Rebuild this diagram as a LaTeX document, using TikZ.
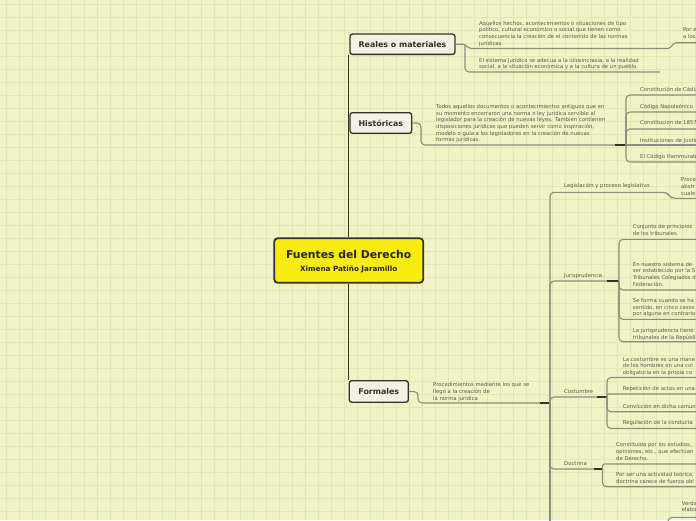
\documentclass[tikz,border=0pt]{standalone}
\usepackage{fontspec}
\newfontfamily\dv{DejaVu Sans}
\definecolor{bgc}{RGB}{241,243,197}
\definecolor{gridc}{RGB}{225,231,180}
\definecolor{txtc}{RGB}{88,88,80}
\definecolor{linec}{RGB}{140,140,128}
\definecolor{darkc}{RGB}{50,50,45}
\definecolor{boxf}{RGB}{243,241,228}
\definecolor{centf}{RGB}{248,236,14}
\tikzset{
  txt/.style={font=\dv\fontsize{5.3}{6.67}\selectfont, text=txtc, inner sep=0pt,
    anchor=north west, align=left, execute at begin node=\rule{0pt}{4.2pt}},
  topic/.style={draw=darkc, fill=boxf, line width=1.3pt, rounded corners=2.5pt,
    inner sep=0pt, font=\dv\bfseries\fontsize{7.9}{9}\selectfont, text=darkc},
  branch/.style={draw=linec, line width=1.1pt, rounded corners=4pt},
  trunk/.style={draw=darkc, line width=1.3pt},
  joint/.style={draw=darkc, line width=1.8pt},
}
\begin{document}
\begin{tikzpicture}[x=1pt,y=-1pt]
\useasboundingbox (0,0) rectangle (696,520);
\clip (0,0) rectangle (696,520);
\fill[bgc] (0,0) rectangle (696,520);
\foreach \i in {6,19,...,700} {\draw[gridc, line width=0.6pt] (\i,0) -- (\i,520);}
\foreach \j in {4,17,...,524} {\draw[gridc, line width=0.6pt] (0,\j) -- (696,\j);}

% main nodes
\node[draw=darkc, fill=centf, line width=1.8pt, rounded corners=3.5pt, minimum width=149pt, minimum height=44.5pt, inner sep=0pt] (central) at (348.7,260.5) {};
\node[font=\dv\bfseries\fontsize{10.8}{12}\selectfont, text=black!85, inner sep=0pt] (ctitle) at (348.7,254) {Fuentes del Derecho};
\node[font=\dv\bfseries\fontsize{7.2}{9}\selectfont, text=black!85, inner sep=0pt] (csub) at (348.7,269.3) {Ximena Patiño Jaramillo};

\node[topic, minimum width=105pt, minimum height=20.3pt] (reales) at (402.5,44.2) {Reales o materiales};
\node[topic, minimum width=61.7pt, minimum height=20.6pt] (hist) at (380.8,123) {Históricas};
\node[topic, minimum width=59pt, minimum height=21.6pt] (formales) at (378.8,391.5) {Formales};

% trunk
\draw[trunk] (central.north |- reales.south) -- (central.north);
\draw[trunk] (central.south) -- (central.south |- formales.north);

% Reales branch
\node[txt] (r1) at (479,20.9) {Aquellos hechos, acontecimientos o situaciones de tipo\\político, cultural económico o social que tienen como\\consecuencia la creación de el contenido de las normas\\jurídicas.};
\node[txt] (r2) at (479,57.6) {El sistema jurídico se adecua a la idiosincrasia, a la realidad\\social, a la situación económica y a la cultura de un pueblo.};
\node[txt] (r3) at (683,27.6) {Por e\\a los};
\coordinate (rj) at (465,44.2);
\draw[branch, rounded corners=2pt] (reales.east) -- (rj) -- (469,48.5) -- (670,48.5) -- (674,42.7) -- (700,42.7);
\draw[branch] (rj) -- (465,72) -- (660,72);

% Historicas branch
\node[txt] (h1) at (436,104.3) {Todos aquellos documentos o acontecimientos antiguos que en\\su momento encerraron una norma o ley jurídica servible al\\legislador para la creación de nuevas leyes. También contienen\\disposiciones jurídicas que pueden servir como inspiración,\\modelo o guía a los legisladores en la creación de nuevas\\formas jurídicas.};
\coordinate (hj) at (626,145);
\draw[branch] (hist.east) -- (421,123) -- (421,145) -- (615,145);
\draw[joint] (615,145) -- (hj);
\node[txt] (h2) at (640,86.9) {Constitución de Cádiz};
\node[txt] (h3) at (640,103.6) {Código Napoleónico};
\node[txt] (h4) at (640,120.3) {Constitución de 1857};
\node[txt] (h5) at (640,137.6) {Instituciones de Justiniano};
\node[txt] (h6) at (640,154.3) {El Código Hammurabi};
\foreach \yy in {95,112,129,162} {\draw[branch] (hj) -- (626,\yy) -- (700,\yy);}
\draw[branch] (hj) -- (700,145);

% Formales branch
\node[txt] (f1) at (433,382.6) {Procedimientos mediante los que se\\llegó a la creación de\\la norma jurídica};
\coordinate (fj) at (550,403);
\draw[branch] (formales.east) -- (418,391.5) -- (418,403) -- (540,403);
\draw[joint] (540,403) -- (fj);
\draw[branch] (fj) -- (550,530);

\node[txt] (leg) at (564,183.3) {Legislación y proceso legislativo};
\node[txt] (proc) at (681,177.6) {Proce\\abstr\\cuale};
\draw[branch] (fj) -- (550,192.3) -- (667,192.3) -- (671,198.3) -- (700,198.3);

\node[txt] (jur) at (564,272.6) {Jurisprudencia};
\coordinate (jj) at (619,281);
\draw[branch] (fj) -- (550,281) -- (607,281);
\draw[joint] (607,281) -- (jj);
\node[txt] (j1) at (632.7,224.3) {Conjunto de principios\\de los tribunales.};
\node[txt] (j2) at (632.7,261.9) {En nuestro sistema de\\ser establecido por la S\\Tribunales Colegiados d\\Federación.};
\node[txt] (j3) at (632.7,298.3) {Se forma cuando se ha\\sentido, en cinco casos\\por alguna en contrario};
\node[txt] (j4) at (632.7,328.3) {La jurisprudencia tiene\\tribunales de la República};
\foreach \yy in {239.3,290,319.3,341.7} {\draw[branch] (jj) -- (619,\yy) -- (700,\yy);}

\node[txt] (cos) at (564,388.6) {Costumbre};
\coordinate (cj) at (607,397);
\draw[branch] (fj) -- (550,397) -- (597,397);
\draw[joint] (597,397) -- (cj);
\node[txt] (c1) at (622.7,356.9) {La costumbre es una mane\\de los hombres en una col\\obligatoria en la propia co};
\node[txt] (c2) at (622.7,385.9) {Repetición de actos en una};
\node[txt] (c3) at (622.7,403.6) {Convicción en dicha comun};
\node[txt] (c4) at (622.7,420.3) {Regulación de la conducta};
\foreach \yy in {377.5,411.7,428.5} {\draw[branch] (cj) -- (607,\yy) -- (700,\yy);}
\draw[branch, rounded corners=1.5pt] (cj) -- (607,394) -- (700,394);

\node[txt] (doc) at (564,461.3) {Doctrina};
\coordinate (dj) at (602.5,469);
\draw[branch] (fj) -- (550,469) -- (594,469);
\draw[joint] (594,469) -- (dj);
\node[txt] (d1) at (616,442.6) {Constituida por los estudios,\\opiniones, etc., que efectúan\\de Derecho.};
\node[txt] (d2) at (616,471.9) {Por ser una actividad teórica,\\doctrina carece de fuerza obl};
\draw[branch, rounded corners=2pt] (dj) -- (602.5,464) -- (700,464);
\draw[branch] (dj) -- (602.5,486.7) -- (700,486.7);

\node[txt] (v1) at (681.7,500.9) {Verda\\elabo};
\draw[branch] (668,535) -- (668,517.3) -- (700,517.3);
\end{tikzpicture}
\end{document}
